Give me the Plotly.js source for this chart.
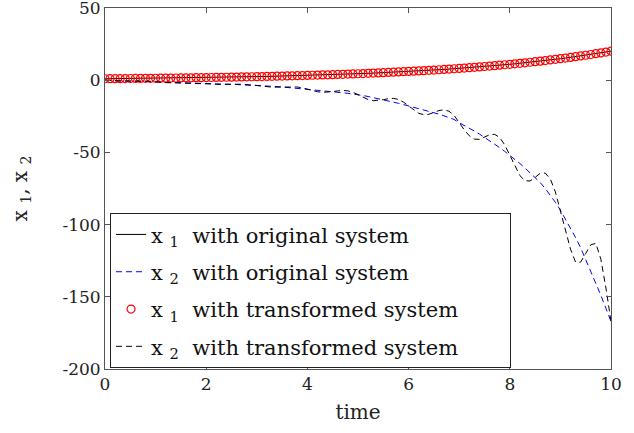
<!DOCTYPE html>
<html>
<head>
<meta charset="utf-8">
<script src="https://cdn.plot.ly/plotly-3.0.1.min.js"></script>
<style>html,body{margin:0;padding:0;background:#fff;}#chart{width:634px;height:433px;}</style>
</head>
<body>
<div id="chart"></div>
<script>
var time = [0,0.1,0.2,0.3,0.4,0.5,0.6,0.7,0.8,0.9,1,1.1,1.2,1.3,1.4,1.5,1.6,1.7,1.8,1.9,2,2.1,2.2,2.3,2.4,2.5,2.6,2.7,2.8,2.9,3,3.1,3.2,3.3,3.4,3.5,3.6,3.7,3.8,3.9,4,4.1,4.2,4.3,4.4,4.5,4.6,4.7,4.8,4.9,5,5.1,5.2,5.3,5.4,5.5,5.6,5.7,5.8,5.9,6,6.1,6.2,6.3,6.4,6.5,6.6,6.7,6.8,6.9,7,7.1,7.2,7.3,7.4,7.5,7.6,7.7,7.8,7.9,8,8.1,8.2,8.3,8.4,8.5,8.6,8.7,8.8,8.9,9,9.1,9.2,9.3,9.4,9.5,9.6,9.7,9.8,9.9,10];

var x1Original = [1.00,1.03,1.06,1.09,1.13,1.16,1.20,1.23,1.27,1.31,1.35,1.39,1.43,1.48,1.52,1.57,1.62,1.67,1.72,1.77,1.82,1.88,1.93,1.99,2.05,2.12,2.18,2.25,2.32,2.39,2.46,2.54,2.61,2.69,2.77,2.86,2.95,3.03,3.13,3.22,3.32,3.42,3.53,3.63,3.74,3.86,3.97,4.09,4.22,4.35,4.48,4.62,4.76,4.90,5.05,5.21,5.37,5.53,5.70,5.87,6.05,6.23,6.42,6.62,6.82,7.03,7.24,7.46,7.69,7.92,8.17,8.41,8.67,8.94,9.21,9.49,9.78,10.08,10.38,10.70,11.02,11.36,11.70,12.06,12.43,12.81,13.20,13.60,14.01,14.44,14.88,15.33,15.80,16.28,16.78,17.29,17.81,18.36,18.92,19.49,20.09];

var x1Transformed = x1Original.slice();

var x2Original = [0,-0.1,-0.2,-0.3,-0.4,-0.5,-0.6,-0.8,-0.9,-1.0,-1.2,-1.3,-1.4,-1.5,-1.7,-1.8,-1.9,-2.0,-2.1,-2.2,-2.3,-2.4,-2.5,-2.6,-2.8,-2.9,-3.0,-3.2,-3.3,-3.5,-3.6,-3.8,-4.0,-4.2,-4.4,-4.7,-5.0,-5.3,-5.6,-5.9,-6.3,-6.6,-6.9,-7.2,-7.5,-7.9,-8.3,-8.7,-9.1,-9.5,-10.0,-10.6,-11.3,-12.0,-12.7,-13.5,-14.3,-15.2,-16.0,-16.9,-17.8,-18.7,-19.6,-20.5,-21.4,-22.3,-23.5,-24.7,-25.9,-27.2,-29.5,-31.3,-33.2,-35.2,-37.3,-39.5,-41.8,-44.2,-46.7,-49.3,-52.0,-54.8,-57.7,-60.8,-64.0,-67.3,-70.8,-75.0,-79.5,-84.5,-90,-96,-102,-109,-116,-124,-132,-140.5,-149,-158,-167];

var x2Transformed = [0,-0.3,-0.5,-0.6,-0.6,-0.5,-0.4,-0.5,-0.6,-0.8,-1.2,-1.5,-1.7,-1.8,-1.9,-1.8,-1.7,-1.7,-1.8,-2.0,-2.3,-2.6,-2.9,-3.0,-3.0,-2.9,-2.8,-2.8,-2.9,-3.3,-3.6,-4.1,-4.6,-4.8,-4.8,-4.7,-4.5,-4.5,-4.7,-5.3,-6.3,-7.3,-8.0,-8.4,-8.3,-7.9,-7.4,-7.1,-7.4,-8.4,-10.0,-11.8,-13.4,-14.2,-14.1,-13.5,-12.8,-12.6,-13.3,-15.2,-17.8,-20.6,-22.9,-23.9,-23.6,-22.3,-21.0,-20.5,-21.5,-24.4,-29.5,-34.4,-38.5,-40.8,-41.0,-39.5,-37.8,-37.5,-39.7,-44.8,-52.0,-59.7,-66.1,-69.6,-69.8,-67.3,-64.5,-64.3,-68.3,-77.3,-90,-104,-117,-126,-126,-120,-114,-113,-124,-144,-167];

var legendNames = [
  "x <sub>1</sub>  with original system",
  "x <sub>2</sub>  with original system",
  "x <sub>1</sub>  with transformed system\u00a0\u00a0\u00a0\u00a0\u00a0\u00a0\u00a0",
  "x <sub>2</sub>  with transformed system"
];

var yTickVals = [-200,-150,-100,-50,0,50];
var yTickText = ["-200","-150","-100","-50","0","50"];
var xTickVals = [0,2,4,6,8,10];
var xTickText = ["0","2","4","6","8","10"];

var FONT = "DejaVu Serif";

var traces = [
  {x: time, y: x1Original, name: legendNames[0], legendgroup: "a", mode: "lines",
   line: {color: "#000000", width: 1}},
  {x: time, y: x2Original, name: legendNames[1], legendgroup: "b", mode: "lines",
   line: {color: "#0000ff", width: 1, dash: "6px,4px"}},
  {x: time, y: x1Transformed, name: legendNames[2], legendgroup: "c", mode: "markers",
   marker: {symbol: "circle-open", size: 8, color: "#ff0000", line: {width: 1.2, color: "#ff0000"}}},
  {x: time, y: x2Transformed, name: legendNames[3], legendgroup: "d", mode: "lines",
   line: {color: "#000000", width: 1, dash: "6px,4px"}}
];

var axisCommon = {
  showline: true, linecolor: "#555", linewidth: 1, mirror: "ticks",
  ticks: "inside", ticklen: 5, tickcolor: "#555", tickwidth: 1,
  showgrid: false, zeroline: false, ticklabeloverflow: "allow",
  tickfont: {family: FONT, size: 17, color: "#222"}
};

var layout = {
  width: 634, height: 433,
  margin: {l: 105, r: 23, t: 8, b: 64},
  paper_bgcolor: "#fff", plot_bgcolor: "#fff",
  font: {family: FONT, color: "#222"},
  showlegend: true,
  legend: {
    x: 0.01, xanchor: "left", y: 0.002, yanchor: "bottom",
    bgcolor: "#fff", bordercolor: "#222", borderwidth: 1,
    font: {family: FONT, size: 21, color: "#111"},
    tracegroupgap: 7, itemwidth: 30
  },
  xaxis: Object.assign({}, axisCommon, {
    range: [0, 10], tickmode: "array", tickvals: xTickVals, ticktext: xTickText,
    title: {text: "time", font: {family: FONT, size: 20, color: "#222"}, standoff: 11}
  }),
  yaxis: Object.assign({}, axisCommon, {
    range: [-200, 50], tickmode: "array", tickvals: yTickVals, ticktext: yTickText,
    title: {text: "x <sub>1</sub>, x <sub>2</sub>", font: {family: FONT, size: 20, color: "#222"}, standoff: 29}
  })
};

Plotly.newPlot("chart", traces, layout, {displayModeBar: false, staticPlot: true});
</script>
</body>
</html>
